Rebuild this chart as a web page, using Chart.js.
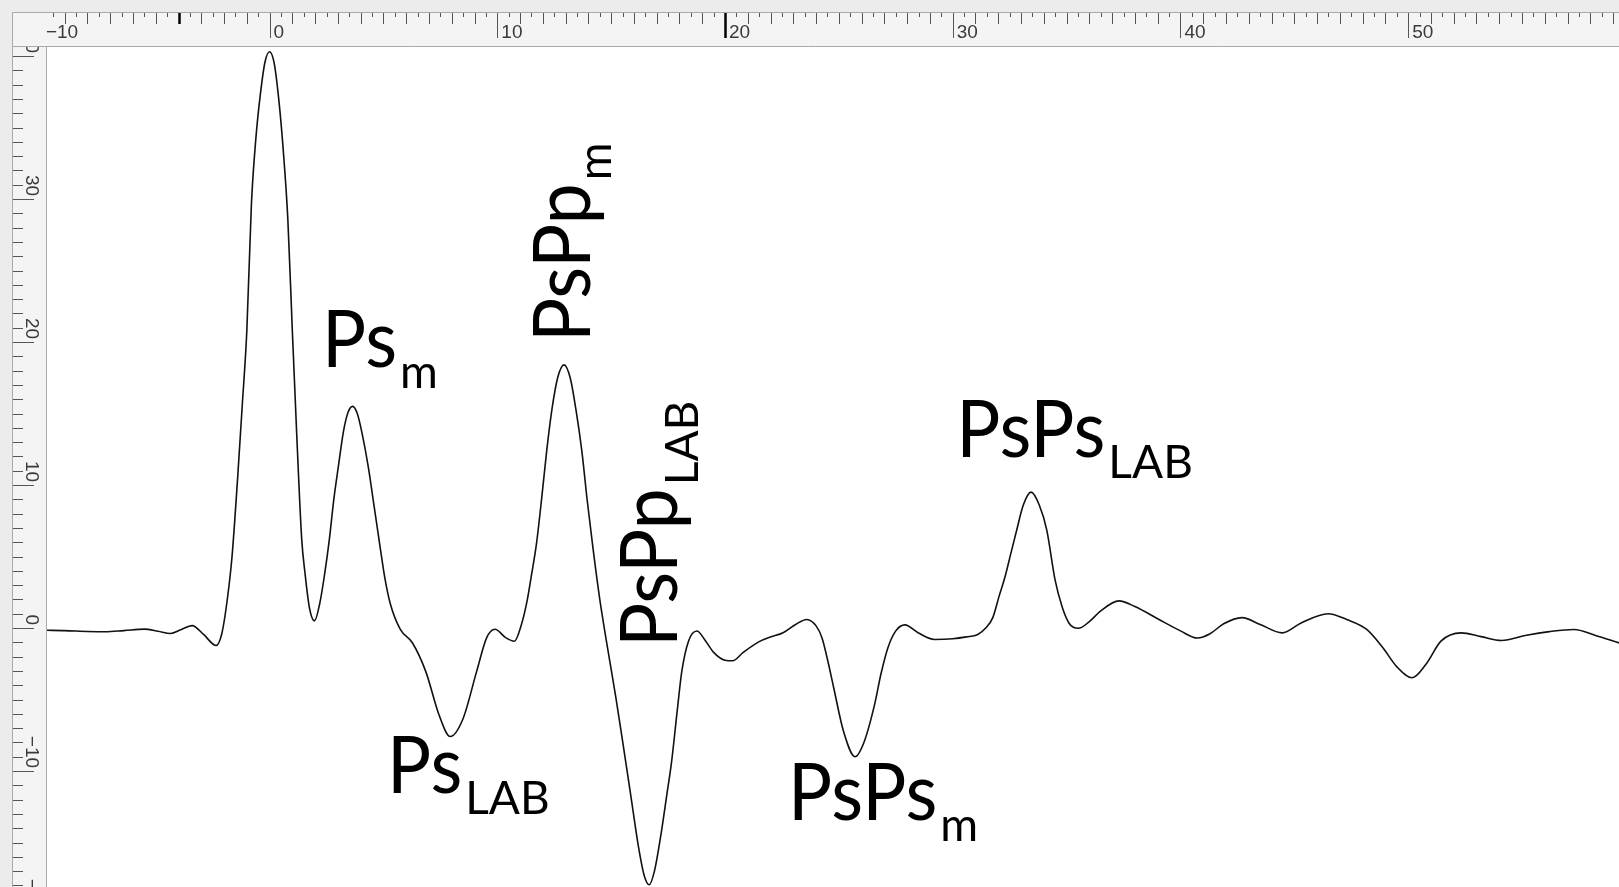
<!DOCTYPE html>
<html>
<head>
<meta charset="utf-8">
<title>Receiver function</title>
<script src="https://cdn.jsdelivr.net/npm/chart.js@4.4.1/dist/chart.umd.min.js"></script>
<style>
  html, body { margin:0; padding:0; background:#ececec; }
  #wrap { width:1619px; height:887px; }
</style>
</head>
<body>
<div id="wrap"><canvas id="rfChart"></canvas></div>
<script>
// Receiver function trace: time (s) and amplitude
const times = [
  -9.78, -9.0, -8.0, -7.2, -6.4, -5.5, -4.9, -4.35, -3.9, -3.4, -2.9, -2.35, -2.1, -1.85, -1.65, -1.4, -1.2,
  -1.0, -0.8, -0.6, -0.4, -0.2, 0.0, 0.2, 0.4, 0.6, 0.8, 1.0, 1.2, 1.41, 1.55, 1.75, 1.97,
  2.2, 2.4, 2.62, 2.82, 3.02, 3.25, 3.45, 3.65, 3.85, 4.05, 4.33, 4.6, 4.85, 5.05, 5.3, 5.74,
  6.27, 6.86, 7.45, 7.93, 8.49, 9.09, 9.53, 9.9, 10.35, 10.75, 11.05, 11.31, 11.5, 11.72, 11.95,
  12.17, 12.4, 12.65, 12.93, 13.2, 13.45, 13.71, 13.95, 14.2, 14.5, 14.8, 15.2, 15.5, 15.87,
  16.2, 16.45, 16.67, 16.9, 17.2, 17.45, 17.65, 17.9, 18.1, 18.4, 18.77, 19.1, 19.5, 20.0, 20.33,
  20.8, 21.5, 21.96, 22.55, 23.1, 23.59, 24.0, 24.26, 24.5, 24.78, 25.2, 25.71, 26.1, 26.56,
  26.85, 27.15, 27.5, 27.9, 28.5, 29.2, 30.0, 30.6, 31.1, 31.45, 31.76, 32.05, 32.3, 32.55,
  32.81, 33.1, 33.44, 33.8, 34.13, 34.49, 34.8, 35.1, 35.3, 35.52, 36.0, 36.5, 37.3, 38.0, 39.0,
  40.0, 40.75, 41.3, 41.9, 42.7, 43.5, 44.47, 45.3, 46.48, 47.3, 48.18, 48.9, 49.5, 50.18,
  50.8, 51.44, 52.33, 53.2, 54.1, 55.2, 56.2, 57.29, 58.2, 59.26
];
const amplitude = [
  -0.16, -0.18, -0.24, -0.26, -0.18, -0.08, -0.22, -0.38, -0.12, 0.17, -0.45, -1.22, -0.4, 2.1, 5.0, 10.6, 15.6,
  20.8, 29.6, 34.3, 37.4, 39.6, 40.3, 39.5, 37.0, 33.4, 28.6, 20.7, 13.2, 6.2, 3.9, 1.4, 0.5,
  1.7, 3.6, 6.15, 9.0, 11.3, 13.8, 15.1, 15.5, 15.0, 13.7, 11.3, 8.4, 5.7, 3.6, 1.7, -0.09,
  -1.03, -3.05, -6.12, -7.59, -6.36, -3.05, -0.69, -0.09, -0.65, -0.92, 0.2, 1.92, 3.7, 5.9, 9.1,
  12.4, 15.3, 17.5, 18.4, 17.5, 15.3, 12.4, 8.9, 5.6, 2.0, -1.0, -4.8, -7.9, -11.8,
  -15.3, -17.3, -17.95, -17.0, -14.3, -11.6, -9.4, -5.8, -3.05, -0.9, -0.21, -0.8, -1.7, -2.25, -2.29,
  -1.7, -0.95, -0.64, -0.33, 0.25, 0.6, 0.15, -0.69, -2.2, -4.23, -7.2, -9.0, -8.0, -5.41,
  -3.2, -1.39, -0.2, 0.22, -0.35, -0.8, -0.75, -0.62, -0.45, 0.0, 0.73, 2.3, 3.6, 5.2,
  6.85, 8.6, 9.5, 8.6, 6.85, 3.4, 1.5, 0.35, 0.05, -0.02, 0.45, 1.2, 1.9, 1.5, 0.65,
  -0.2, -0.7, -0.4, 0.3, 0.73, 0.25, -0.34, 0.35, 1.0, 0.6, -0.1, -1.4, -2.7, -3.48,
  -2.5, -0.92, -0.34, -0.6, -0.87, -0.5, -0.25, -0.1, -0.5, -1.04
];

// Ruler numbers
const topRulerLabels = [-10, 0, 10, 20, 30, 40, 50];
const sideRulerLabels = [40, 30, 20, 10, 0, -10, -20];
const rulerMarks = [-4, 20];

// Phase names drawn next to the arrivals (anchor = text start, in data units)
const phaseLabels = [
  { text: 'Ps',   sub: 'm',   t: 2.30,  a: 18.25,  vertical: false },
  { text: 'Ps',   sub: 'LAB', t: 5.16,  a: -11.54, vertical: false },
  { text: 'PsPp', sub: 'm',   t: 14.07, a: 20.0,   vertical: true },
  { text: 'PsPp', sub: 'LAB', t: 17.89, a: -1.33,  vertical: true },
  { text: 'PsPs', sub: 'm',   t: 22.77, a: -13.43, vertical: false },
  { text: 'PsPs', sub: 'LAB', t: 30.15, a: 11.98,  vertical: false }
];

const RULER_EDGE = 12;

function line(ctx, x1, y1, x2, y2){
  ctx.beginPath();
  ctx.moveTo(x1, y1);
  ctx.lineTo(x2, y2);
  ctx.stroke();
}

const rulerPlugin = {
  id: 'rulers',
  beforeDraw(chart){
    const {ctx, chartArea: area, width, height} = chart;
    const xs = chart.scales.x, ys = chart.scales.y;
    ctx.save();
    ctx.fillStyle = '#ececec';
    ctx.fillRect(0, 0, width, height);
    ctx.fillStyle = '#f4f4f4';
    ctx.fillRect(RULER_EDGE, RULER_EDGE, width - RULER_EDGE, area.top - RULER_EDGE);
    ctx.fillRect(RULER_EDGE, area.top, area.left - RULER_EDGE, height - area.top);
    ctx.fillStyle = '#ffffff';
    ctx.fillRect(area.left, area.top, area.right - area.left, area.bottom - area.top);

    // borders
    ctx.strokeStyle = '#a9a9a9';
    ctx.lineWidth = 1;
    line(ctx, RULER_EDGE, RULER_EDGE + 0.5, width, RULER_EDGE + 0.5);
    line(ctx, RULER_EDGE + 0.5, RULER_EDGE, RULER_EDGE + 0.5, height);
    line(ctx, RULER_EDGE, area.top - 0.5, width, area.top - 0.5);
    line(ctx, area.left - 0.5, area.top, area.left - 0.5, height);

    // top ruler ticks every half unit
    ctx.strokeStyle = '#555';
    for(let v = Math.ceil(xs.min * 2) / 2; v <= xs.max; v += 0.5){
      const px = Math.round(xs.getPixelForValue(v)) + 0.5;
      if(px < area.left) continue;
      let len = 4;
      if(v % 10 === 0) len = 25;
      else if(Number.isInteger(v)) len = 11;
      line(ctx, px, RULER_EDGE + 1, px, RULER_EDGE + 1 + len);
    }
    // side ruler ticks every unit
    for(let v = Math.floor(ys.max); v >= ys.min; v -= 1){
      const py = Math.round(ys.getPixelForValue(v)) + 0.5;
      if(py < area.top) continue;
      const len = (v % 10 === 0) ? 21 : 10;
      line(ctx, RULER_EDGE + 1, py, RULER_EDGE + 1 + len, py);
    }
    // dark markers on the top ruler
    ctx.strokeStyle = '#000';
    ctx.lineWidth = 2.5;
    rulerMarks.forEach(v => {
      const px = Math.round(xs.getPixelForValue(v)) + 0.5;
      const len = (v % 10 === 0) ? 25 : 11;
      line(ctx, px, RULER_EDGE + 1, px, RULER_EDGE + 1 + len);
    });

    // top labels
    ctx.fillStyle = '#3a3a3a';
    ctx.font = '19px "Liberation Sans"';
    ctx.textBaseline = 'alphabetic';
    ctx.save();
    ctx.beginPath();
    ctx.rect(RULER_EDGE, RULER_EDGE, width - RULER_EDGE, area.top - RULER_EDGE);
    ctx.clip();
    ctx.textAlign = 'left';
    topRulerLabels.forEach(v => {
      const px = xs.getPixelForValue(v);
      ctx.fillText(String(v).replace('-', '\u2212'), px + 4, 38);
    });
    ctx.restore();

    // side labels, turned to read downwards
    ctx.save();
    ctx.beginPath();
    ctx.rect(RULER_EDGE, area.top, area.left - RULER_EDGE, height - area.top);
    ctx.clip();
    sideRulerLabels.forEach(v => {
      const py = ys.getPixelForValue(v);
      ctx.save();
      ctx.translate(26, py - 3);
      ctx.rotate(Math.PI / 2);
      ctx.textAlign = 'right';
      ctx.fillText(String(v).replace('-', '\u2212'), 0, 0);
      ctx.restore();
    });
    ctx.restore();
    ctx.restore();
  }
};

const phasePlugin = {
  id: 'phases',
  afterDatasetsDraw(chart){
    const {ctx} = chart;
    const xs = chart.scales.x, ys = chart.scales.y;
    phaseLabels.forEach(l => {
      ctx.save();
      ctx.translate(xs.getPixelForValue(l.t), ys.getPixelForValue(l.a));
      if(l.vertical) ctx.rotate(-Math.PI / 2);
      ctx.fillStyle = '#000';
      ctx.textAlign = 'left';
      ctx.textBaseline = 'alphabetic';
      // main name, slightly narrowed
      ctx.save();
      ctx.scale(0.92, 1);
      ctx.font = '80px Lato';
      ctx.fillText(l.text, 0, 0);
      const w = ctx.measureText(l.text).width * 0.92;
      ctx.restore();
      // subscript
      ctx.font = '46px Lato';
      ctx.fillText(l.sub, w + 3, 21);
      ctx.restore();
    });
  }
};

const points = times.map((t, i) => ({ x: t, y: amplitude[i] }));

new Chart(document.getElementById('rfChart'), {
  type: 'line',
  data: {
    datasets: [{
      data: points,
      borderColor: '#111',
      borderWidth: 1.6,
      pointRadius: 0,
      fill: false,
      cubicInterpolationMode: 'monotone'
    }]
  },
  options: {
    responsive: true,
    maintainAspectRatio: false,
    animation: false,
    layout: { padding: { left: 47, top: 47, right: 0, bottom: 0 } },
    scales: {
      x: { type: 'linear', display: false, min: -9.776, max: 59.26 },
      y: { type: 'linear', display: false, min: -18.11, max: 40.63 }
    },
    plugins: {
      legend: { display: false },
      tooltip: { enabled: false }
    },
    events: []
  },
  plugins: [rulerPlugin, phasePlugin]
});
</script>
</body>
</html>
